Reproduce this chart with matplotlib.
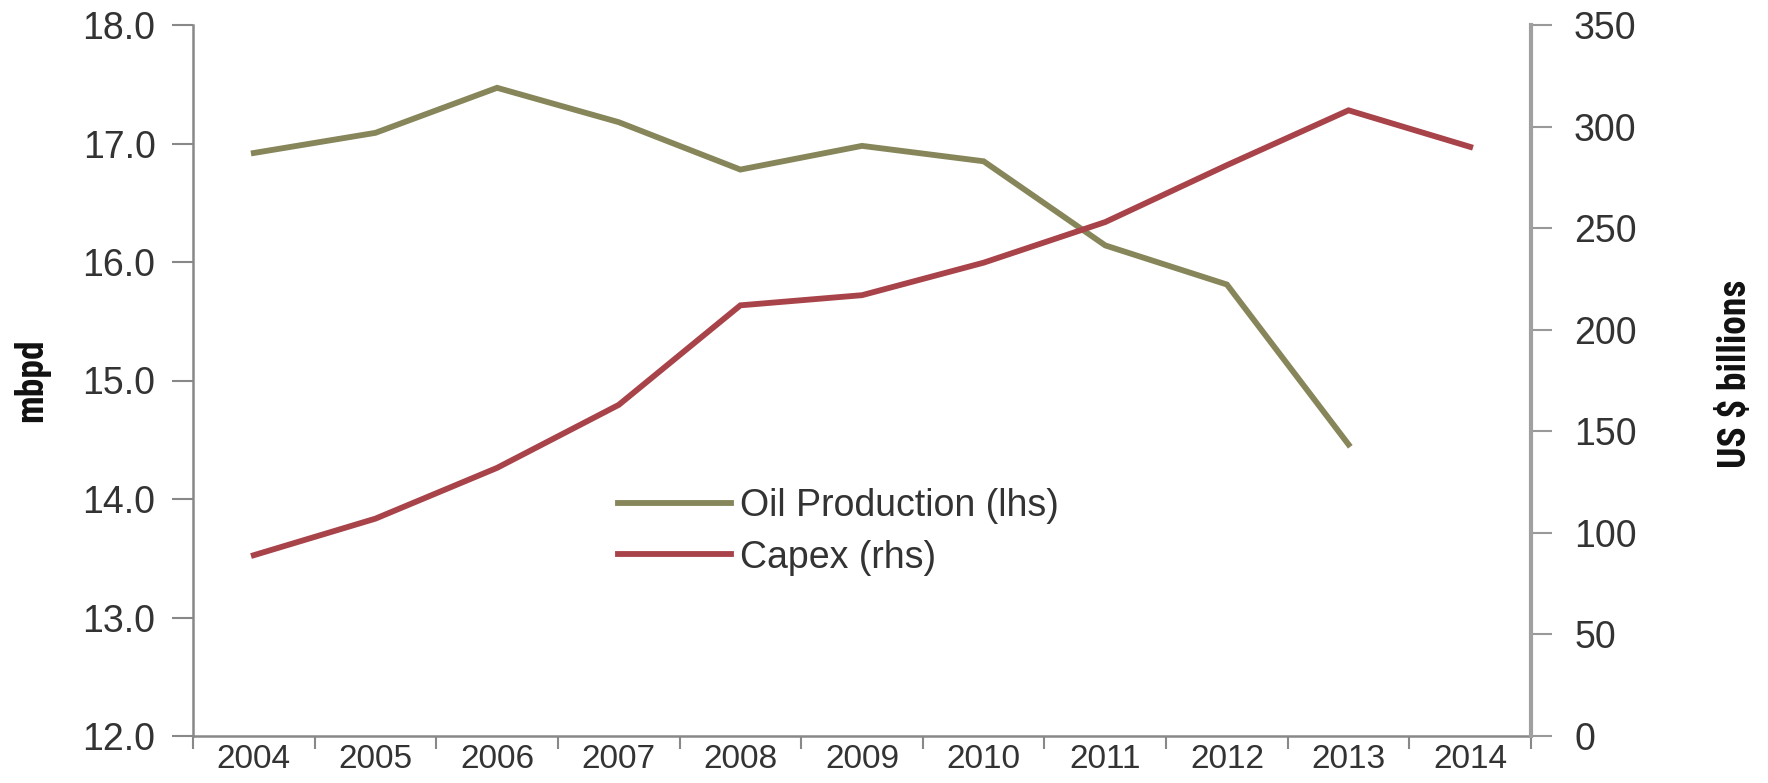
import numpy as np
import matplotlib
matplotlib.use("Agg")
import matplotlib.pyplot as plt
from matplotlib import font_manager

years = ["2004", "2005", "2006", "2007", "2008", "2009", "2010", "2011", "2012", "2013", "2014"]
oil_production = [16.92, 17.09, 17.47, 17.18, 16.78, 16.98, 16.85, 16.14, 15.81, 14.46, np.nan]
capex = [89, 107, 132, 163, 212, 217, 233, 253, 281, 308, 290]
left_ticks = [12.0, 13.0, 14.0, 15.0, 16.0, 17.0, 18.0]
right_ticks = [0, 50, 100, 150, 200, 250, 300, 350]

OIL_C = "#86865a"
CAPEX_C = "#a9434a"
TXT = "#333333"
W, H = 1768, 783

plt.rcParams['font.family'] = ['Liberation Sans', 'DejaVu Sans']

installed = {f.name for f in font_manager.fontManager.ttflist}
narrow = [f for f in ['Liberation Sans Narrow', 'DejaVu Sans Condensed', 'Roboto Condensed']
          if f in installed]
label_family = narrow + ['Liberation Sans', 'DejaVu Sans']

fig = plt.figure(figsize=(W / 100, H / 100), dpi=100)
L, R, B, T = 193 / W, 1531 / W, 1 - 736 / H, 1 - 25 / H
ax = fig.add_axes([L, B, R - L, T - B])
ax2 = ax.twinx()

x = np.arange(len(years))
l1, = ax.plot(x, oil_production, color=OIL_C, lw=4.2, solid_joinstyle='miter', zorder=3)
l2, = ax2.plot(x, capex, color=CAPEX_C, lw=4.2, solid_joinstyle='miter', zorder=3)

ax.set_xlim(-0.5, len(years) - 0.5)
ax.set_ylim(12, 18)
ax2.set_ylim(0, 350)

# x ticks at category boundaries, labels at centers
ax.set_xticks(np.arange(-0.5, len(years), 1.0))
ax.set_xticklabels([])
ax.set_xticks(x, minor=True)
ax.set_xticklabels(years, minor=True, fontsize=24, color=TXT)
ax.tick_params(axis='x', which='major', length=9, width=1.5, color="#888888", direction='out')
ax.tick_params(axis='x', which='minor', length=0, pad=6)

ax.set_yticks(left_ticks)
ax.set_yticklabels([f"{v:.1f}" for v in left_ticks], fontsize=27, color=TXT)
ax.tick_params(axis='y', length=15, width=1.5, color="#888888", pad=12)

ax2.set_yticks(right_ticks)
ax2.set_yticklabels([str(v) for v in right_ticks], fontsize=27, color=TXT)
ax2.tick_params(axis='y', length=15, width=1.5, color="#999999", pad=16)

for a in (ax, ax2):
    a.spines['top'].set_visible(False)
ax.spines['right'].set_visible(False)
ax2.spines['left'].set_visible(False)
ax2.spines['bottom'].set_visible(False)
ax.spines['left'].set_color("#888888")
ax.spines['left'].set_linewidth(1.8)
ax.spines['bottom'].set_color("#888888")
ax.spines['bottom'].set_linewidth(1.8)
ax2.spines['right'].set_color("#a0a0a0")
ax2.spines['right'].set_linewidth(3)

fig.text(32 / W, 1 - 380 / H, "mbpd", rotation=90, ha='center', va='center',
         fontsize=27, fontweight='bold', color="#111111", family=label_family)
fig.text(1735 / W, 1 - 374 / H, "US $ billions", rotation=90, ha='center', va='center',
         fontsize=27, fontweight='bold', color="#111111", family=label_family)

leg = fig.legend([l1, l2], ["Oil Production (lhs)", "Capex (rhs)"],
                 loc='center left', bbox_to_anchor=(618 / W, 1 - 532 / H),
                 frameon=False, fontsize=27, handlelength=3.0, handletextpad=0.25,
                 borderpad=0, borderaxespad=0, labelspacing=0.4)
for t in leg.get_texts():
    t.set_color(TXT)

fig.savefig("out.png", dpi=100, facecolor="white")
